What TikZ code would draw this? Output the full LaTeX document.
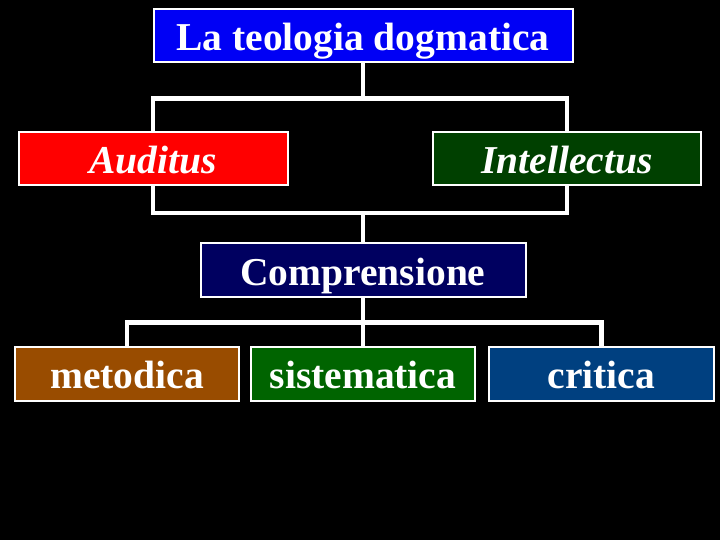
\documentclass[tikz,border=0pt]{standalone}
\usepackage{fontspec}
\setmainfont{Liberation Serif}
\definecolor{topblue}{RGB}{0,0,245}
\definecolor{audred}{RGB}{255,0,0}
\definecolor{intgreen}{RGB}{0,64,0}
\definecolor{compnavy}{RGB}{0,0,96}
\definecolor{metbrown}{RGB}{153,76,0}
\definecolor{sisgreen}{RGB}{0,100,0}
\definecolor{critblue}{RGB}{0,64,128}
\tikzset{
  box/.style={draw=white, line width=2pt, inner sep=0pt, text=white,
    text height=34pt, text depth=4pt,
    font=\fontsize{39.5}{40}\selectfont\bfseries},
  itbox/.style={box, font=\fontsize{39.5}{40}\selectfont\bfseries\itshape},
  conn/.style={draw=white, line width=4.5pt, line join=miter, line cap=rect},
}
\begin{document}
\begin{tikzpicture}[x=1pt,y=-1pt]
\fill[black] (0,0) rectangle (720,540);
\useasboundingbox (0,0) rectangle (720,540);
\node[box, fill=topblue, minimum width=419pt, minimum height=53pt] (top) at (363,35.5) {La teologia dogmatica};
\node[itbox, fill=audred, minimum width=269pt, minimum height=53pt] (aud) at (153,158.5) {Auditus};
\node[itbox, fill=intgreen, minimum width=268pt, minimum height=53pt] (int) at (567,158.5) {Intellectus};
\node[box, fill=compnavy, minimum width=325pt, minimum height=54pt] (comp) at (363,270) {Comprensione};
\node[box, fill=metbrown, minimum width=224pt, minimum height=54pt] (met) at (127,373.5) {metodica};
\node[box, fill=sisgreen, minimum width=224pt, minimum height=54pt] (sis) at (363,373.5) {sistematica};
\node[box, fill=critblue, minimum width=225pt, minimum height=54pt] (crit) at (601.5,373.5) {critica};
\coordinate (b1) at (363,98.5);
\coordinate (b2) at (363,213);
\coordinate (b3) at (363,322.5);
\draw[conn] (top.south) -- (b1);
\draw[conn] (aud.north) |- (b1) -| (int.north);
\draw[conn] (aud.south) |- (b2) -| (int.south);
\draw[conn] (b2) -- (comp.north);
\draw[conn] (comp.south) -- (b3);
\draw[conn] (met.north) |- (b3) -| (crit.north);
\draw[conn] (b3) -- (sis.north);
\end{tikzpicture}
\end{document}
